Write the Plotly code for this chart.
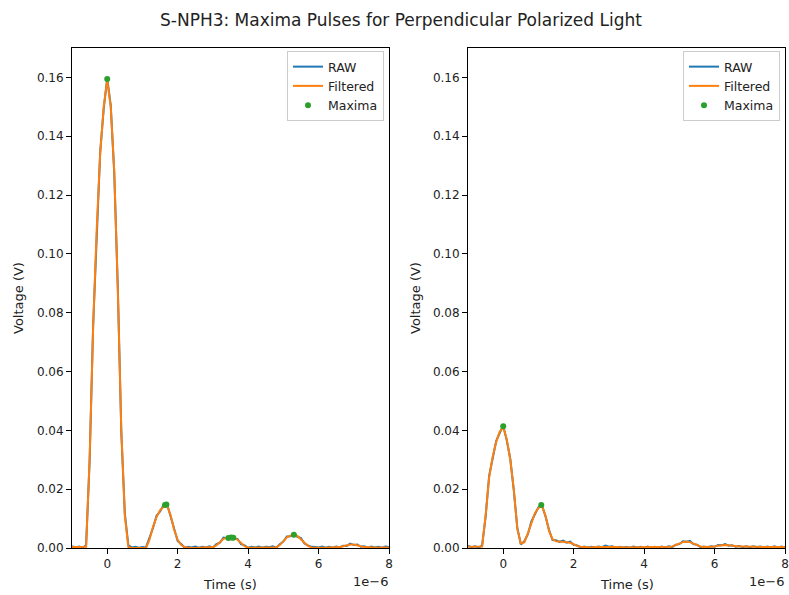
import plotly.graph_objects as go

# ---------------- data (time in microseconds, voltage in volts) ----------------
TIME_US = [-1.0, -0.9, -0.8, -0.7, -0.6, -0.5, -0.4, -0.3, -0.2, -0.1,
           0.0, 0.1, 0.2, 0.3, 0.4, 0.5, 0.6, 0.7, 0.8, 0.9,
           1.0, 1.1, 1.2, 1.3, 1.4, 1.5, 1.6, 1.7, 1.8, 1.9,
           2.0, 2.1, 2.2, 2.3, 2.4, 2.5, 2.6, 2.7, 2.8, 2.9,
           3.0, 3.1, 3.2, 3.3, 3.4, 3.5, 3.6, 3.7, 3.8, 3.9,
           4.0, 4.1, 4.2, 4.3, 4.4, 4.5, 4.6, 4.7, 4.8, 4.9,
           5.0, 5.1, 5.2, 5.3, 5.4, 5.5, 5.6, 5.7, 5.8, 5.9,
           6.0, 6.1, 6.2, 6.3, 6.4, 6.5, 6.6, 6.7, 6.8, 6.9,
           7.0, 7.1, 7.2, 7.3, 7.4, 7.5, 7.6, 7.7, 7.8, 7.9, 8.0]

RAW_LEFT = [0.0006, 0.0002, 0.0005, 0.0001, 0.0009, 0.0294, 0.0756, 0.1072, 0.1346, 0.1493,
            0.1597, 0.1505, 0.1273, 0.0888, 0.0393, 0.0117, 0.0009, 0.0002, 0.0004, 0.0001,
            0.0003, 0.0002, 0.0033, 0.0068, 0.0110, 0.0124, 0.0146, 0.0149, 0.0107, 0.0066,
            0.0024, 0.0014, 0.0001, 0.0004, 0.0002, 0.0005, 0.0001, 0.0004, 0.0002, 0.0006,
            0.0001, 0.0013, 0.0018, 0.0035, 0.0033, 0.0039, 0.0032, 0.0031, 0.0013, 0.0009,
            0.0001, 0.0004, 0.0002, 0.0005, 0.0001, 0.0004, 0.0003, 0.0006, 0.0001, 0.0013,
            0.0022, 0.0039, 0.0040, 0.0047, 0.0038, 0.0034, 0.0015, 0.0009, 0.0004, 0.0003,
            0.0002, 0.0005, 0.0001, 0.0004, 0.0001, 0.0005, 0.0002, 0.0008, 0.0007, 0.0015,
            0.0010, 0.0012, 0.0004, 0.0006, 0.0001, 0.0005, 0.0002, 0.0004, 0.0001, 0.0005, 0.0003]

FILT_LEFT = [0.0003, 0.0003, 0.0002, 0.0002, 0.0004, 0.0300, 0.0750, 0.1080, 0.1340, 0.1500,
             0.1592, 0.1500, 0.1280, 0.0880, 0.0400, 0.0110, 0.0003, 0.0000, 0.0000, 0.0000,
             0.0000, 0.0000, 0.0028, 0.0072, 0.0105, 0.0128, 0.0141, 0.0144, 0.0112, 0.0062,
             0.0028, 0.0010, 0.0003, 0.0001, 0.0000, 0.0000, 0.0001, 0.0001, 0.0001, 0.0002,
             0.0003, 0.0009, 0.0021, 0.0031, 0.0035, 0.0036, 0.0035, 0.0028, 0.0016, 0.0006,
             0.0002, 0.0001, 0.0000, 0.0001, 0.0002, 0.0002, 0.0001, 0.0001, 0.0002, 0.0010,
             0.0025, 0.0036, 0.0042, 0.0045, 0.0041, 0.0031, 0.0018, 0.0007, 0.0002, 0.0001,
             0.0000, 0.0001, 0.0001, 0.0001, 0.0002, 0.0002, 0.0003, 0.0006, 0.0009, 0.0012,
             0.0012, 0.0010, 0.0006, 0.0003, 0.0002, 0.0002, 0.0002, 0.0001, 0.0002, 0.0002, 0.0002]

MAX_LEFT_T = [0.0, 1.64, 1.68, 3.44, 3.52, 3.58, 5.30]
MAX_LEFT_V = [0.1595, 0.0146, 0.0148, 0.0034, 0.0036, 0.0035, 0.0045]

RAW_RIGHT = [0.0007, 0.0003, 0.0006, 0.0002, 0.0008, 0.0106, 0.0245, 0.0306, 0.0364, 0.0391,
             0.0416, 0.0366, 0.0304, 0.0196, 0.0069, 0.0012, 0.0023, 0.0047, 0.0091, 0.0115,
             0.0139, 0.0145, 0.0108, 0.0062, 0.0027, 0.0026, 0.0021, 0.0025, 0.0018, 0.0022,
             0.0011, 0.0009, 0.0002, 0.0005, 0.0001, 0.0004, 0.0002, 0.0005, 0.0003, 0.0008,
             0.0004, 0.0006, 0.0001, 0.0004, 0.0002, 0.0003, 0.0001, 0.0005, 0.0002, 0.0004,
             0.0001, 0.0005, 0.0002, 0.0004, 0.0001, 0.0005, 0.0002, 0.0006, 0.0003, 0.0011,
             0.0013, 0.0023, 0.0021, 0.0024, 0.0013, 0.0011, 0.0003, 0.0005, 0.0002, 0.0006,
             0.0004, 0.0010, 0.0009, 0.0013, 0.0008, 0.0009, 0.0004, 0.0007, 0.0003, 0.0006,
             0.0002, 0.0006, 0.0003, 0.0005, 0.0001, 0.0005, 0.0002, 0.0006, 0.0002, 0.0005, 0.0002]

FILT_RIGHT = [0.0004, 0.0004, 0.0003, 0.0003, 0.0005, 0.0110, 0.0240, 0.0310, 0.0360, 0.0395,
              0.0412, 0.0370, 0.0300, 0.0200, 0.0065, 0.0015, 0.0020, 0.0050, 0.0088, 0.0118,
              0.0136, 0.0143, 0.0110, 0.0058, 0.0030, 0.0023, 0.0022, 0.0021, 0.0020, 0.0018,
              0.0013, 0.0007, 0.0004, 0.0003, 0.0002, 0.0002, 0.0003, 0.0003, 0.0004, 0.0005,
              0.0005, 0.0004, 0.0003, 0.0003, 0.0002, 0.0002, 0.0003, 0.0003, 0.0002, 0.0002,
              0.0002, 0.0003, 0.0003, 0.0002, 0.0002, 0.0003, 0.0003, 0.0004, 0.0005, 0.0009,
              0.0015, 0.0020, 0.0022, 0.0020, 0.0015, 0.0009, 0.0005, 0.0003, 0.0003, 0.0004,
              0.0005, 0.0008, 0.0010, 0.0010, 0.0009, 0.0007, 0.0006, 0.0005, 0.0005, 0.0004,
              0.0004, 0.0004, 0.0004, 0.0003, 0.0003, 0.0003, 0.0003, 0.0004, 0.0003, 0.0003, 0.0003]

MAX_RIGHT_T = [0.0, 1.08]
MAX_RIGHT_V = [0.0414, 0.0146]

TITLE = "S-NPH3: Maxima Pulses for Perpendicular Polarized Light"
X_TICKS = [0, 2, 4, 6, 8]
Y_TICKS = [0.00, 0.02, 0.04, 0.06, 0.08, 0.10, 0.12, 0.14, 0.16]

# ---------------- figure ----------------
W, H = 789, 595
BLUE, ORANGE, GREEN = "#1f77b4", "#ff7f0e", "#2ca02c"
FONT = "DejaVu Sans"
TXT = "#222"

fig = go.Figure()

panels = [
    ("x", "y", "legend", RAW_LEFT, FILT_LEFT, MAX_LEFT_T, MAX_LEFT_V),
    ("x2", "y2", "legend2", RAW_RIGHT, FILT_RIGHT, MAX_RIGHT_T, MAX_RIGHT_V),
]
for xa, ya, lg, raw, filt, mt, mv in panels:
    fig.add_trace(go.Scatter(x=TIME_US, y=raw, mode="lines", name="RAW",
                             line=dict(color=BLUE, width=2), xaxis=xa, yaxis=ya, legend=lg))
    fig.add_trace(go.Scatter(x=TIME_US, y=filt, mode="lines", name="Filtered",
                             line=dict(color=ORANGE, width=2), xaxis=xa, yaxis=ya, legend=lg))
    fig.add_trace(go.Scatter(x=mt, y=mv, mode="markers", name="Maxima",
                             marker=dict(color=GREEN, size=6), xaxis=xa, yaxis=ya, legend=lg))

ydom = [47 / H, 547 / H]
xdom1 = [72 / W, 389 / W]
xdom2 = [468 / W, 785 / W]

axis_common = dict(showline=True, linecolor="black", linewidth=1, mirror=True,
                   ticks="outside", ticklen=5, tickwidth=1, tickcolor="black",
                   showgrid=False, zeroline=False, automargin=False,
                   tickfont=dict(family=FONT, size=12, color=TXT))

xcommon = dict(axis_common, range=[-1, 8], tickvals=X_TICKS,
               ticktext=[str(v) for v in X_TICKS])
ycommon = dict(axis_common, range=[0, 0.17], tickvals=Y_TICKS,
               ticktext=[f"{v:.2f}" for v in Y_TICKS])

legend_common = dict(font=dict(family=FONT, size=12.5, color=TXT),
                     bgcolor="rgba(255,255,255,0.8)", bordercolor="#cccccc",
                     borderwidth=1, xanchor="right", yanchor="top",
                     itemwidth=30, tracegroupgap=0)

fig.update_layout(
    width=W, height=H,
    margin=dict(l=0, r=0, t=0, b=0, pad=0),
    paper_bgcolor="white", plot_bgcolor="white",
    font=dict(family=FONT, size=12, color=TXT),
    xaxis=dict(xcommon, domain=xdom1, anchor="y"),
    yaxis=dict(ycommon, domain=ydom, anchor="x"),
    xaxis2=dict(xcommon, domain=xdom2, anchor="y2"),
    yaxis2=dict(ycommon, domain=ydom, anchor="x2"),
    legend=dict(legend_common, x=384 / W, y=1 - 51 / H),
    legend2=dict(legend_common, x=780 / W, y=1 - 51 / H),
    showlegend=True,
)

annotations = [
    dict(text=TITLE, x=401 / W, y=1 - 20 / H, xanchor="center", yanchor="middle",
         font=dict(family=FONT, size=17, color=TXT)),
    dict(text="Time (s)", x=230 / W, y=1 - 584 / H, xanchor="center", yanchor="middle",
         font=dict(family=FONT, size=13, color=TXT)),
    dict(text="Time (s)", x=627 / W, y=1 - 584 / H, xanchor="center", yanchor="middle",
         font=dict(family=FONT, size=13, color=TXT)),
    dict(text="Voltage (V)", x=18 / W, y=1 - 298 / H, xanchor="center", yanchor="middle",
         textangle=-90, font=dict(family=FONT, size=13, color=TXT)),
    dict(text="Voltage (V)", x=415 / W, y=1 - 298 / H, xanchor="center", yanchor="middle",
         textangle=-90, font=dict(family=FONT, size=13, color=TXT)),
    dict(text="1e\u22126", x=390 / W, y=1 - 581 / H, xanchor="right", yanchor="middle",
         font=dict(family=FONT, size=13, color=TXT)),
    dict(text="1e\u22126", x=786 / W, y=1 - 581 / H, xanchor="right", yanchor="middle",
         font=dict(family=FONT, size=13, color=TXT)),
]
for a in annotations:
    a.update(xref="paper", yref="paper", showarrow=False)
fig.update_layout(annotations=annotations)

fig.write_html("out.html", config={"displayModeBar": False},
               post_script="document.body.style.margin='0';document.body.style.padding='0';")
